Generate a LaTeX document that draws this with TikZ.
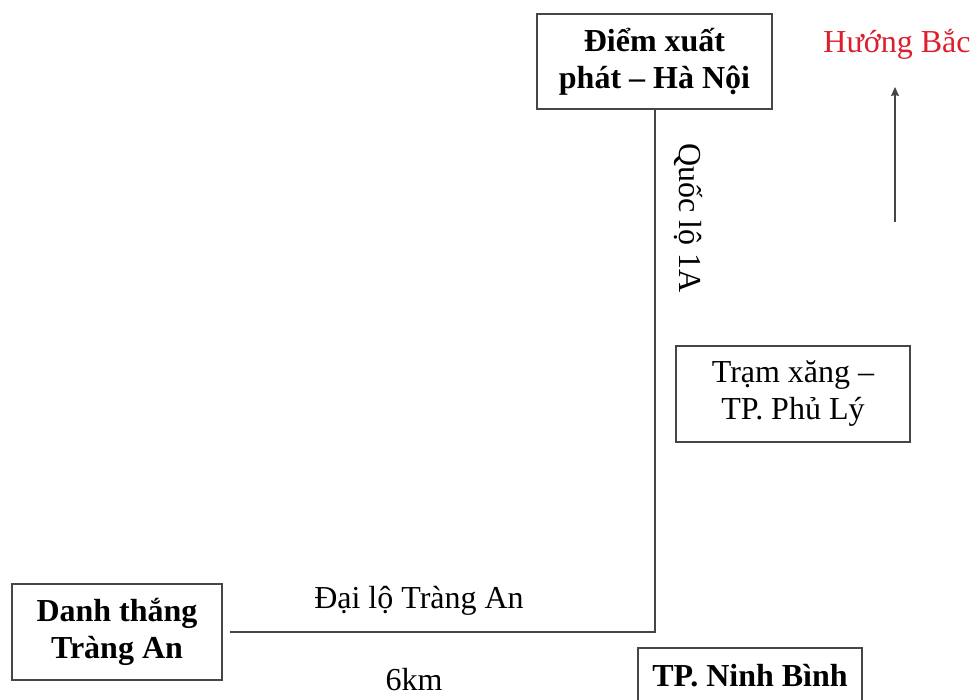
\documentclass[tikz,border=0pt]{standalone}
\usepackage{fontspec}
\setmainfont{Liberation Serif}
\usetikzlibrary{arrows.meta}
\definecolor{edge}{RGB}{70,70,70}
\definecolor{northred}{RGB}{220,30,45}
\tikzset{
  place/.style={draw=edge, line width=1.4pt, align=center, inner sep=0pt,
    font=\fontsize{32}{37}\selectfont},
  road/.style={draw=edge, line width=1.4pt},
  lbl/.style={font=\fontsize{32}{37}\selectfont, inner sep=0pt}
}
\begin{document}
\begin{tikzpicture}[x=1pt,y=1pt]
\useasboundingbox (0,0) rectangle (975,700);
\clip (0,0) rectangle (975,700);
\node[place, minimum width=235pt, minimum height=95pt] (hanoi) at (654.5,638.5)
  {\bfseries Điểm xuất\\\bfseries phát – Hà Nội};
\node[place, minimum width=234pt, minimum height=96pt] (phuly) at (793,306)
  {Trạm xăng –\\TP. Phủ Lý};
\node[place, minimum width=210pt, minimum height=96pt] (trangan) at (117,68)
  {\bfseries Danh thắng\\\bfseries Tràng An};
\node[place, minimum width=224pt, minimum height=56pt] (ninhbinh) at (750,24)
  {\bfseries TP. Ninh Bình};
\coordinate (corner) at (655,68);
\coordinate (roadstart) at (230,68);
\draw[road] (hanoi.south -| corner) -- (corner) -- (roadstart);
\node[lbl, rotate=-90] (ql) at (688,482) {Quốc lộ 1A};
\node[lbl] (dailo) at (419,99) {Đại lộ Tràng An};
\node[lbl] (km) at (414,20) {6km};
\node[lbl, text=northred] (north) at (897,656) {Hướng Bắc};
\coordinate (arrowtail) at (895,478);
\coordinate (arrowhead) at (895,613);
\draw[road, line width=1.1pt, -{Stealth[length=9pt,width=8pt,inset=1pt]}] (arrowtail) -- (arrowhead);
\end{tikzpicture}
\end{document}
